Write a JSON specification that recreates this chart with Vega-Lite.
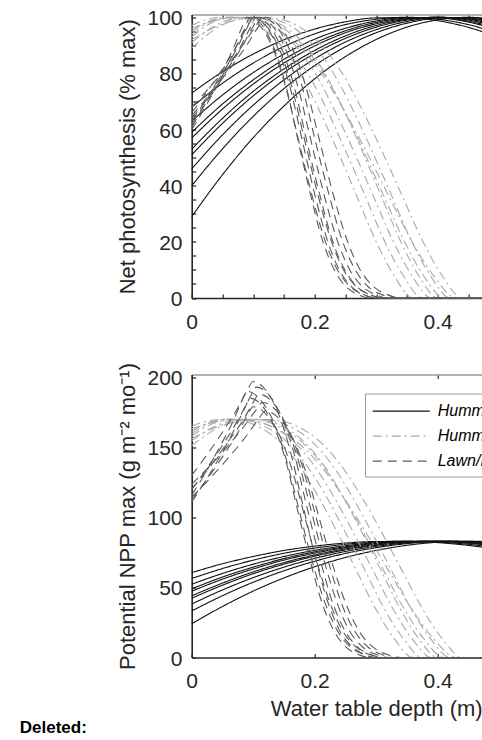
{
"$schema":"https://vega.github.io/schema/vega-lite/v6.json",
"autosize":{"type":"none"},
"padding":{"left":191.7,"top":14.5,"right":290.3,"bottom":725.5},
"background":"white",
"bounds":"flush",
"spacing":76,
"title":{"text":"Deleted:","orient":"bottom","anchor":"start","font":"Liberation Sans","fontSize":17,"fontWeight":"bold","color":"#000000","offset":0,"dx":-96.7},
"config":{
 "font":"Liberation Sans",
 "view":{"stroke":null},
 "axis":{"grid":false,"labelFlush":false,"labelOverlap":false,"domainColor":"#262626","domainWidth":1.6,"tickColor":"#262626","tickWidth":1.2,"tickSize":-4,"labelFont":"Liberation Sans","labelFontSize":21,"labelColor":"#262626","titleFont":"Liberation Sans","titleFontSize":22,"titleFontWeight":"normal","titleColor":"#262626"},
 "legend":{"labelFont":"Liberation Sans"}
},
"datasets":{
"photo":[
{"c":"S1","t":"Hummock","x":0,"y":73},{"c":"S1","t":"Hummock","x":0.05,"y":80.6},{"c":"S1","t":"Hummock","x":0.1,"y":86.9},{"c":"S1","t":"Hummock","x":0.15,"y":92},{"c":"S1","t":"Hummock","x":0.2,"y":95.8},{"c":"S1","t":"Hummock","x":0.25,"y":98.4},{"c":"S1","t":"Hummock","x":0.3,"y":99.8},{"c":"S1","t":"Hummock","x":0.35,"y":99.9},{"c":"S1","t":"Hummock","x":0.4,"y":98.8},{"c":"S1","t":"Hummock","x":0.45,"y":96.4},{"c":"S1","t":"Hummock","x":0.5,"y":92.8},
{"c":"S2","t":"Hummock","x":0,"y":68},{"c":"S2","t":"Hummock","x":0.05,"y":76.5},{"c":"S2","t":"Hummock","x":0.1,"y":83.7},{"c":"S2","t":"Hummock","x":0.15,"y":89.6},{"c":"S2","t":"Hummock","x":0.2,"y":94.1},{"c":"S2","t":"Hummock","x":0.25,"y":97.4},{"c":"S2","t":"Hummock","x":0.3,"y":99.3},{"c":"S2","t":"Hummock","x":0.35,"y":100},{"c":"S2","t":"Hummock","x":0.4,"y":99.3},{"c":"S2","t":"Hummock","x":0.45,"y":97.4},{"c":"S2","t":"Hummock","x":0.5,"y":94.1},
{"c":"S3","t":"Hummock","x":0,"y":63},{"c":"S3","t":"Hummock","x":0.05,"y":72.3},{"c":"S3","t":"Hummock","x":0.1,"y":80.3},{"c":"S3","t":"Hummock","x":0.15,"y":86.9},{"c":"S3","t":"Hummock","x":0.2,"y":92.2},{"c":"S3","t":"Hummock","x":0.25,"y":96.1},{"c":"S3","t":"Hummock","x":0.3,"y":98.7},{"c":"S3","t":"Hummock","x":0.35,"y":99.9},{"c":"S3","t":"Hummock","x":0.4,"y":99.8},{"c":"S3","t":"Hummock","x":0.45,"y":98.3},{"c":"S3","t":"Hummock","x":0.5,"y":95.4},
{"c":"S4","t":"Hummock","x":0,"y":59},{"c":"S4","t":"Hummock","x":0.05,"y":69.1},{"c":"S4","t":"Hummock","x":0.1,"y":77.7},{"c":"S4","t":"Hummock","x":0.15,"y":85},{"c":"S4","t":"Hummock","x":0.2,"y":90.8},{"c":"S4","t":"Hummock","x":0.25,"y":95.2},{"c":"S4","t":"Hummock","x":0.3,"y":98.2},{"c":"S4","t":"Hummock","x":0.35,"y":99.7},{"c":"S4","t":"Hummock","x":0.4,"y":99.9},{"c":"S4","t":"Hummock","x":0.45,"y":98.6},{"c":"S4","t":"Hummock","x":0.5,"y":95.9},
{"c":"S5","t":"Hummock","x":0,"y":57},{"c":"S5","t":"Hummock","x":0.05,"y":67.3},{"c":"S5","t":"Hummock","x":0.1,"y":76.2},{"c":"S5","t":"Hummock","x":0.15,"y":83.7},{"c":"S5","t":"Hummock","x":0.2,"y":89.8},{"c":"S5","t":"Hummock","x":0.25,"y":94.5},{"c":"S5","t":"Hummock","x":0.3,"y":97.7},{"c":"S5","t":"Hummock","x":0.35,"y":99.5},{"c":"S5","t":"Hummock","x":0.4,"y":100},{"c":"S5","t":"Hummock","x":0.45,"y":99},{"c":"S5","t":"Hummock","x":0.5,"y":96.6},
{"c":"S6","t":"Hummock","x":0,"y":53},{"c":"S6","t":"Hummock","x":0.05,"y":64},{"c":"S6","t":"Hummock","x":0.1,"y":73.6},{"c":"S6","t":"Hummock","x":0.15,"y":81.6},{"c":"S6","t":"Hummock","x":0.2,"y":88.2},{"c":"S6","t":"Hummock","x":0.25,"y":93.4},{"c":"S6","t":"Hummock","x":0.3,"y":97.1},{"c":"S6","t":"Hummock","x":0.35,"y":99.3},{"c":"S6","t":"Hummock","x":0.4,"y":100},{"c":"S6","t":"Hummock","x":0.45,"y":99.3},{"c":"S6","t":"Hummock","x":0.5,"y":97.1},
{"c":"S7","t":"Hummock","x":0,"y":51},{"c":"S7","t":"Hummock","x":0.05,"y":62.2},{"c":"S7","t":"Hummock","x":0.1,"y":72},{"c":"S7","t":"Hummock","x":0.15,"y":80.3},{"c":"S7","t":"Hummock","x":0.2,"y":87.1},{"c":"S7","t":"Hummock","x":0.25,"y":92.5},{"c":"S7","t":"Hummock","x":0.3,"y":96.5},{"c":"S7","t":"Hummock","x":0.35,"y":99},{"c":"S7","t":"Hummock","x":0.4,"y":100},{"c":"S7","t":"Hummock","x":0.45,"y":99.5},{"c":"S7","t":"Hummock","x":0.5,"y":97.6},
{"c":"S8","t":"Hummock","x":0,"y":46},{"c":"S8","t":"Hummock","x":0.05,"y":58.1},{"c":"S8","t":"Hummock","x":0.1,"y":68.7},{"c":"S8","t":"Hummock","x":0.15,"y":77.7},{"c":"S8","t":"Hummock","x":0.2,"y":85.2},{"c":"S8","t":"Hummock","x":0.25,"y":91.2},{"c":"S8","t":"Hummock","x":0.3,"y":95.6},{"c":"S8","t":"Hummock","x":0.35,"y":98.5},{"c":"S8","t":"Hummock","x":0.4,"y":99.9},{"c":"S8","t":"Hummock","x":0.45,"y":99.7},{"c":"S8","t":"Hummock","x":0.5,"y":98},
{"c":"S9","t":"Hummock","x":0,"y":40},{"c":"S9","t":"Hummock","x":0.05,"y":53.1},{"c":"S9","t":"Hummock","x":0.1,"y":64.7},{"c":"S9","t":"Hummock","x":0.15,"y":74.6},{"c":"S9","t":"Hummock","x":0.2,"y":82.8},{"c":"S9","t":"Hummock","x":0.25,"y":89.5},{"c":"S9","t":"Hummock","x":0.3,"y":94.5},{"c":"S9","t":"Hummock","x":0.35,"y":97.9},{"c":"S9","t":"Hummock","x":0.4,"y":99.7},{"c":"S9","t":"Hummock","x":0.45,"y":99.9},{"c":"S9","t":"Hummock","x":0.5,"y":98.4},
{"c":"S10","t":"Hummock","x":0,"y":29},{"c":"S10","t":"Hummock","x":0.05,"y":43.9},{"c":"S10","t":"Hummock","x":0.1,"y":57.1},{"c":"S10","t":"Hummock","x":0.15,"y":68.4},{"c":"S10","t":"Hummock","x":0.2,"y":78.1},{"c":"S10","t":"Hummock","x":0.25,"y":86},{"c":"S10","t":"Hummock","x":0.3,"y":92.1},{"c":"S10","t":"Hummock","x":0.35,"y":96.5},{"c":"S10","t":"Hummock","x":0.4,"y":99.1},{"c":"S10","t":"Hummock","x":0.45,"y":100},{"c":"S10","t":"Hummock","x":0.5,"y":99.1},
{"c":"D1","t":"Hummock/Lawn","x":0,"y":97},{"c":"D1","t":"Hummock/Lawn","x":0.025,"y":99.3},{"c":"D1","t":"Hummock/Lawn","x":0.05,"y":100},{"c":"D1","t":"Hummock/Lawn","x":0.081,"y":99.4},{"c":"D1","t":"Hummock/Lawn","x":0.112,"y":96.5},{"c":"D1","t":"Hummock/Lawn","x":0.143,"y":90.5},{"c":"D1","t":"Hummock/Lawn","x":0.174,"y":81},{"c":"D1","t":"Hummock/Lawn","x":0.205,"y":68},{"c":"D1","t":"Hummock/Lawn","x":0.236,"y":53},{"c":"D1","t":"Hummock/Lawn","x":0.267,"y":37},{"c":"D1","t":"Hummock/Lawn","x":0.298,"y":21},{"c":"D1","t":"Hummock/Lawn","x":0.329,"y":8},{"c":"D1","t":"Hummock/Lawn","x":0.36,"y":0},{"c":"D1","t":"Hummock/Lawn","x":0.5,"y":0},
{"c":"D2","t":"Hummock/Lawn","x":0,"y":95},{"c":"D2","t":"Hummock/Lawn","x":0.03,"y":98.8},{"c":"D2","t":"Hummock/Lawn","x":0.06,"y":100},{"c":"D2","t":"Hummock/Lawn","x":0.092,"y":99.4},{"c":"D2","t":"Hummock/Lawn","x":0.123,"y":96.5},{"c":"D2","t":"Hummock/Lawn","x":0.155,"y":90.5},{"c":"D2","t":"Hummock/Lawn","x":0.186,"y":81},{"c":"D2","t":"Hummock/Lawn","x":0.218,"y":68},{"c":"D2","t":"Hummock/Lawn","x":0.249,"y":53},{"c":"D2","t":"Hummock/Lawn","x":0.281,"y":37},{"c":"D2","t":"Hummock/Lawn","x":0.312,"y":21},{"c":"D2","t":"Hummock/Lawn","x":0.344,"y":8},{"c":"D2","t":"Hummock/Lawn","x":0.375,"y":0},{"c":"D2","t":"Hummock/Lawn","x":0.5,"y":0},
{"c":"D3","t":"Hummock/Lawn","x":0,"y":93},{"c":"D3","t":"Hummock/Lawn","x":0.035,"y":98.3},{"c":"D3","t":"Hummock/Lawn","x":0.07,"y":100},{"c":"D3","t":"Hummock/Lawn","x":0.102,"y":99.4},{"c":"D3","t":"Hummock/Lawn","x":0.134,"y":96.5},{"c":"D3","t":"Hummock/Lawn","x":0.166,"y":90.5},{"c":"D3","t":"Hummock/Lawn","x":0.198,"y":81},{"c":"D3","t":"Hummock/Lawn","x":0.23,"y":68},{"c":"D3","t":"Hummock/Lawn","x":0.262,"y":53},{"c":"D3","t":"Hummock/Lawn","x":0.294,"y":37},{"c":"D3","t":"Hummock/Lawn","x":0.326,"y":21},{"c":"D3","t":"Hummock/Lawn","x":0.358,"y":8},{"c":"D3","t":"Hummock/Lawn","x":0.39,"y":0},{"c":"D3","t":"Hummock/Lawn","x":0.5,"y":0},
{"c":"D4","t":"Hummock/Lawn","x":0,"y":91},{"c":"D4","t":"Hummock/Lawn","x":0.045,"y":97.8},{"c":"D4","t":"Hummock/Lawn","x":0.09,"y":100},{"c":"D4","t":"Hummock/Lawn","x":0.121,"y":99.4},{"c":"D4","t":"Hummock/Lawn","x":0.152,"y":96.5},{"c":"D4","t":"Hummock/Lawn","x":0.183,"y":90.5},{"c":"D4","t":"Hummock/Lawn","x":0.214,"y":81},{"c":"D4","t":"Hummock/Lawn","x":0.245,"y":68},{"c":"D4","t":"Hummock/Lawn","x":0.276,"y":53},{"c":"D4","t":"Hummock/Lawn","x":0.307,"y":37},{"c":"D4","t":"Hummock/Lawn","x":0.338,"y":21},{"c":"D4","t":"Hummock/Lawn","x":0.369,"y":8},{"c":"D4","t":"Hummock/Lawn","x":0.4,"y":0},{"c":"D4","t":"Hummock/Lawn","x":0.5,"y":0},
{"c":"D5","t":"Hummock/Lawn","x":0,"y":96},{"c":"D5","t":"Hummock/Lawn","x":0.04,"y":99},{"c":"D5","t":"Hummock/Lawn","x":0.08,"y":100},{"c":"D5","t":"Hummock/Lawn","x":0.113,"y":99.4},{"c":"D5","t":"Hummock/Lawn","x":0.146,"y":96.5},{"c":"D5","t":"Hummock/Lawn","x":0.179,"y":90.5},{"c":"D5","t":"Hummock/Lawn","x":0.212,"y":81},{"c":"D5","t":"Hummock/Lawn","x":0.245,"y":68},{"c":"D5","t":"Hummock/Lawn","x":0.278,"y":53},{"c":"D5","t":"Hummock/Lawn","x":0.311,"y":37},{"c":"D5","t":"Hummock/Lawn","x":0.344,"y":21},{"c":"D5","t":"Hummock/Lawn","x":0.377,"y":8},{"c":"D5","t":"Hummock/Lawn","x":0.41,"y":0},{"c":"D5","t":"Hummock/Lawn","x":0.5,"y":0},
{"c":"D6","t":"Hummock/Lawn","x":0,"y":89},{"c":"D6","t":"Hummock/Lawn","x":0.05,"y":97.3},{"c":"D6","t":"Hummock/Lawn","x":0.1,"y":100},{"c":"D6","t":"Hummock/Lawn","x":0.132,"y":99.4},{"c":"D6","t":"Hummock/Lawn","x":0.164,"y":96.5},{"c":"D6","t":"Hummock/Lawn","x":0.196,"y":90.5},{"c":"D6","t":"Hummock/Lawn","x":0.228,"y":81},{"c":"D6","t":"Hummock/Lawn","x":0.26,"y":68},{"c":"D6","t":"Hummock/Lawn","x":0.292,"y":53},{"c":"D6","t":"Hummock/Lawn","x":0.324,"y":37},{"c":"D6","t":"Hummock/Lawn","x":0.356,"y":21},{"c":"D6","t":"Hummock/Lawn","x":0.388,"y":8},{"c":"D6","t":"Hummock/Lawn","x":0.42,"y":0},{"c":"D6","t":"Hummock/Lawn","x":0.5,"y":0},
{"c":"D7","t":"Hummock/Lawn","x":0,"y":94},{"c":"D7","t":"Hummock/Lawn","x":0.03,"y":98.5},{"c":"D7","t":"Hummock/Lawn","x":0.06,"y":100},{"c":"D7","t":"Hummock/Lawn","x":0.097,"y":99.4},{"c":"D7","t":"Hummock/Lawn","x":0.134,"y":96.5},{"c":"D7","t":"Hummock/Lawn","x":0.171,"y":90.5},{"c":"D7","t":"Hummock/Lawn","x":0.208,"y":81},{"c":"D7","t":"Hummock/Lawn","x":0.245,"y":68},{"c":"D7","t":"Hummock/Lawn","x":0.282,"y":53},{"c":"D7","t":"Hummock/Lawn","x":0.319,"y":37},{"c":"D7","t":"Hummock/Lawn","x":0.356,"y":21},{"c":"D7","t":"Hummock/Lawn","x":0.393,"y":8},{"c":"D7","t":"Hummock/Lawn","x":0.43,"y":0},{"c":"D7","t":"Hummock/Lawn","x":0.5,"y":0},
{"c":"D8","t":"Hummock/Lawn","x":0,"y":92},{"c":"D8","t":"Hummock/Lawn","x":0.055,"y":98},{"c":"D8","t":"Hummock/Lawn","x":0.11,"y":100},{"c":"D8","t":"Hummock/Lawn","x":0.143,"y":99.4},{"c":"D8","t":"Hummock/Lawn","x":0.176,"y":96.5},{"c":"D8","t":"Hummock/Lawn","x":0.209,"y":90.5},{"c":"D8","t":"Hummock/Lawn","x":0.242,"y":81},{"c":"D8","t":"Hummock/Lawn","x":0.275,"y":68},{"c":"D8","t":"Hummock/Lawn","x":0.308,"y":53},{"c":"D8","t":"Hummock/Lawn","x":0.341,"y":37},{"c":"D8","t":"Hummock/Lawn","x":0.374,"y":21},{"c":"D8","t":"Hummock/Lawn","x":0.407,"y":8},{"c":"D8","t":"Hummock/Lawn","x":0.44,"y":0},{"c":"D8","t":"Hummock/Lawn","x":0.5,"y":0},
{"c":"L1","t":"Lawn/Hollow","x":0,"y":66},{"c":"L1","t":"Lawn/Hollow","x":0.025,"y":73.5},{"c":"L1","t":"Lawn/Hollow","x":0.05,"y":81.6},{"c":"L1","t":"Lawn/Hollow","x":0.075,"y":90.5},{"c":"L1","t":"Lawn/Hollow","x":0.09,"y":96.6},{"c":"L1","t":"Lawn/Hollow","x":0.1,"y":100},{"c":"L1","t":"Lawn/Hollow","x":0.12,"y":97},{"c":"L1","t":"Lawn/Hollow","x":0.14,"y":89},{"c":"L1","t":"Lawn/Hollow","x":0.16,"y":75},{"c":"L1","t":"Lawn/Hollow","x":0.18,"y":56},{"c":"L1","t":"Lawn/Hollow","x":0.2,"y":37},{"c":"L1","t":"Lawn/Hollow","x":0.22,"y":21},{"c":"L1","t":"Lawn/Hollow","x":0.24,"y":10},{"c":"L1","t":"Lawn/Hollow","x":0.26,"y":4},{"c":"L1","t":"Lawn/Hollow","x":0.28,"y":1.2},{"c":"L1","t":"Lawn/Hollow","x":0.3,"y":0},{"c":"L1","t":"Lawn/Hollow","x":0.5,"y":0},
{"c":"L2","t":"Lawn/Hollow","x":0,"y":62},{"c":"L2","t":"Lawn/Hollow","x":0.026,"y":70.4},{"c":"L2","t":"Lawn/Hollow","x":0.053,"y":79.5},{"c":"L2","t":"Lawn/Hollow","x":0.079,"y":89.4},{"c":"L2","t":"Lawn/Hollow","x":0.095,"y":96.2},{"c":"L2","t":"Lawn/Hollow","x":0.105,"y":100},{"c":"L2","t":"Lawn/Hollow","x":0.126,"y":97},{"c":"L2","t":"Lawn/Hollow","x":0.146,"y":89},{"c":"L2","t":"Lawn/Hollow","x":0.167,"y":75},{"c":"L2","t":"Lawn/Hollow","x":0.187,"y":56},{"c":"L2","t":"Lawn/Hollow","x":0.208,"y":37},{"c":"L2","t":"Lawn/Hollow","x":0.228,"y":21},{"c":"L2","t":"Lawn/Hollow","x":0.249,"y":10},{"c":"L2","t":"Lawn/Hollow","x":0.269,"y":4},{"c":"L2","t":"Lawn/Hollow","x":0.29,"y":1.2},{"c":"L2","t":"Lawn/Hollow","x":0.31,"y":0},{"c":"L2","t":"Lawn/Hollow","x":0.5,"y":0},
{"c":"L3","t":"Lawn/Hollow","x":0,"y":64},{"c":"L3","t":"Lawn/Hollow","x":0.028,"y":71.9},{"c":"L3","t":"Lawn/Hollow","x":0.055,"y":80.6},{"c":"L3","t":"Lawn/Hollow","x":0.083,"y":89.9},{"c":"L3","t":"Lawn/Hollow","x":0.099,"y":96.4},{"c":"L3","t":"Lawn/Hollow","x":0.11,"y":100},{"c":"L3","t":"Lawn/Hollow","x":0.131,"y":97},{"c":"L3","t":"Lawn/Hollow","x":0.152,"y":89},{"c":"L3","t":"Lawn/Hollow","x":0.173,"y":75},{"c":"L3","t":"Lawn/Hollow","x":0.194,"y":56},{"c":"L3","t":"Lawn/Hollow","x":0.215,"y":37},{"c":"L3","t":"Lawn/Hollow","x":0.236,"y":21},{"c":"L3","t":"Lawn/Hollow","x":0.257,"y":10},{"c":"L3","t":"Lawn/Hollow","x":0.278,"y":4},{"c":"L3","t":"Lawn/Hollow","x":0.299,"y":1.2},{"c":"L3","t":"Lawn/Hollow","x":0.32,"y":0},{"c":"L3","t":"Lawn/Hollow","x":0.5,"y":0},
{"c":"L4","t":"Lawn/Hollow","x":0,"y":60},{"c":"L4","t":"Lawn/Hollow","x":0.024,"y":68.8},{"c":"L4","t":"Lawn/Hollow","x":0.048,"y":78.4},{"c":"L4","t":"Lawn/Hollow","x":0.071,"y":88.8},{"c":"L4","t":"Lawn/Hollow","x":0.086,"y":96},{"c":"L4","t":"Lawn/Hollow","x":0.095,"y":100},{"c":"L4","t":"Lawn/Hollow","x":0.115,"y":97},{"c":"L4","t":"Lawn/Hollow","x":0.134,"y":89},{"c":"L4","t":"Lawn/Hollow","x":0.154,"y":75},{"c":"L4","t":"Lawn/Hollow","x":0.173,"y":56},{"c":"L4","t":"Lawn/Hollow","x":0.193,"y":37},{"c":"L4","t":"Lawn/Hollow","x":0.212,"y":21},{"c":"L4","t":"Lawn/Hollow","x":0.232,"y":10},{"c":"L4","t":"Lawn/Hollow","x":0.251,"y":4},{"c":"L4","t":"Lawn/Hollow","x":0.271,"y":1.2},{"c":"L4","t":"Lawn/Hollow","x":0.29,"y":0},{"c":"L4","t":"Lawn/Hollow","x":0.5,"y":0},
{"c":"L5","t":"Lawn/Hollow","x":0,"y":68},{"c":"L5","t":"Lawn/Hollow","x":0.029,"y":75},{"c":"L5","t":"Lawn/Hollow","x":0.058,"y":82.7},{"c":"L5","t":"Lawn/Hollow","x":0.086,"y":91},{"c":"L5","t":"Lawn/Hollow","x":0.104,"y":96.8},{"c":"L5","t":"Lawn/Hollow","x":0.115,"y":100},{"c":"L5","t":"Lawn/Hollow","x":0.137,"y":97},{"c":"L5","t":"Lawn/Hollow","x":0.158,"y":89},{"c":"L5","t":"Lawn/Hollow","x":0.18,"y":75},{"c":"L5","t":"Lawn/Hollow","x":0.201,"y":56},{"c":"L5","t":"Lawn/Hollow","x":0.223,"y":37},{"c":"L5","t":"Lawn/Hollow","x":0.244,"y":21},{"c":"L5","t":"Lawn/Hollow","x":0.266,"y":10},{"c":"L5","t":"Lawn/Hollow","x":0.287,"y":4},{"c":"L5","t":"Lawn/Hollow","x":0.309,"y":1.2},{"c":"L5","t":"Lawn/Hollow","x":0.33,"y":0},{"c":"L5","t":"Lawn/Hollow","x":0.5,"y":0},
{"c":"L6","t":"Lawn/Hollow","x":0,"y":63},{"c":"L6","t":"Lawn/Hollow","x":0.025,"y":71.1},{"c":"L6","t":"Lawn/Hollow","x":0.05,"y":80},{"c":"L6","t":"Lawn/Hollow","x":0.075,"y":89.6},{"c":"L6","t":"Lawn/Hollow","x":0.09,"y":96.3},{"c":"L6","t":"Lawn/Hollow","x":0.1,"y":100},{"c":"L6","t":"Lawn/Hollow","x":0.121,"y":97},{"c":"L6","t":"Lawn/Hollow","x":0.142,"y":89},{"c":"L6","t":"Lawn/Hollow","x":0.163,"y":75},{"c":"L6","t":"Lawn/Hollow","x":0.184,"y":56},{"c":"L6","t":"Lawn/Hollow","x":0.205,"y":37},{"c":"L6","t":"Lawn/Hollow","x":0.226,"y":21},{"c":"L6","t":"Lawn/Hollow","x":0.247,"y":10},{"c":"L6","t":"Lawn/Hollow","x":0.268,"y":4},{"c":"L6","t":"Lawn/Hollow","x":0.289,"y":1.2},{"c":"L6","t":"Lawn/Hollow","x":0.31,"y":0},{"c":"L6","t":"Lawn/Hollow","x":0.5,"y":0},
{"c":"L7","t":"Lawn/Hollow","x":0,"y":65},{"c":"L7","t":"Lawn/Hollow","x":0.03,"y":72.7},{"c":"L7","t":"Lawn/Hollow","x":0.06,"y":81.1},{"c":"L7","t":"Lawn/Hollow","x":0.09,"y":90.2},{"c":"L7","t":"Lawn/Hollow","x":0.108,"y":96.5},{"c":"L7","t":"Lawn/Hollow","x":0.12,"y":100},{"c":"L7","t":"Lawn/Hollow","x":0.142,"y":97},{"c":"L7","t":"Lawn/Hollow","x":0.164,"y":89},{"c":"L7","t":"Lawn/Hollow","x":0.186,"y":75},{"c":"L7","t":"Lawn/Hollow","x":0.208,"y":56},{"c":"L7","t":"Lawn/Hollow","x":0.23,"y":37},{"c":"L7","t":"Lawn/Hollow","x":0.252,"y":21},{"c":"L7","t":"Lawn/Hollow","x":0.274,"y":10},{"c":"L7","t":"Lawn/Hollow","x":0.296,"y":4},{"c":"L7","t":"Lawn/Hollow","x":0.318,"y":1.2},{"c":"L7","t":"Lawn/Hollow","x":0.34,"y":0},{"c":"L7","t":"Lawn/Hollow","x":0.5,"y":0},
{"c":"L8","t":"Lawn/Hollow","x":0,"y":61},{"c":"L8","t":"Lawn/Hollow","x":0.023,"y":69.6},{"c":"L8","t":"Lawn/Hollow","x":0.045,"y":78.9},{"c":"L8","t":"Lawn/Hollow","x":0.068,"y":89.1},{"c":"L8","t":"Lawn/Hollow","x":0.081,"y":96.1},{"c":"L8","t":"Lawn/Hollow","x":0.09,"y":100},{"c":"L8","t":"Lawn/Hollow","x":0.111,"y":97},{"c":"L8","t":"Lawn/Hollow","x":0.132,"y":89},{"c":"L8","t":"Lawn/Hollow","x":0.153,"y":75},{"c":"L8","t":"Lawn/Hollow","x":0.174,"y":56},{"c":"L8","t":"Lawn/Hollow","x":0.195,"y":37},{"c":"L8","t":"Lawn/Hollow","x":0.216,"y":21},{"c":"L8","t":"Lawn/Hollow","x":0.237,"y":10},{"c":"L8","t":"Lawn/Hollow","x":0.258,"y":4},{"c":"L8","t":"Lawn/Hollow","x":0.279,"y":1.2},{"c":"L8","t":"Lawn/Hollow","x":0.3,"y":0},{"c":"L8","t":"Lawn/Hollow","x":0.5,"y":0}
],
"npp":[
{"c":"S1","t":"Hummock","x":0,"y":60.6},{"c":"S1","t":"Hummock","x":0.05,"y":66.9},{"c":"S1","t":"Hummock","x":0.1,"y":72.1},{"c":"S1","t":"Hummock","x":0.15,"y":76.4},{"c":"S1","t":"Hummock","x":0.2,"y":79.5},{"c":"S1","t":"Hummock","x":0.25,"y":81.7},{"c":"S1","t":"Hummock","x":0.3,"y":82.8},{"c":"S1","t":"Hummock","x":0.35,"y":82.9},{"c":"S1","t":"Hummock","x":0.4,"y":82},{"c":"S1","t":"Hummock","x":0.45,"y":80},{"c":"S1","t":"Hummock","x":0.5,"y":77},
{"c":"S2","t":"Hummock","x":0,"y":56.4},{"c":"S2","t":"Hummock","x":0.05,"y":63.5},{"c":"S2","t":"Hummock","x":0.1,"y":69.5},{"c":"S2","t":"Hummock","x":0.15,"y":74.4},{"c":"S2","t":"Hummock","x":0.2,"y":78.1},{"c":"S2","t":"Hummock","x":0.25,"y":80.8},{"c":"S2","t":"Hummock","x":0.3,"y":82.4},{"c":"S2","t":"Hummock","x":0.35,"y":83},{"c":"S2","t":"Hummock","x":0.4,"y":82.4},{"c":"S2","t":"Hummock","x":0.45,"y":80.8},{"c":"S2","t":"Hummock","x":0.5,"y":78.1},
{"c":"S3","t":"Hummock","x":0,"y":52.3},{"c":"S3","t":"Hummock","x":0.05,"y":60},{"c":"S3","t":"Hummock","x":0.1,"y":66.6},{"c":"S3","t":"Hummock","x":0.15,"y":72.1},{"c":"S3","t":"Hummock","x":0.2,"y":76.5},{"c":"S3","t":"Hummock","x":0.25,"y":79.8},{"c":"S3","t":"Hummock","x":0.3,"y":81.9},{"c":"S3","t":"Hummock","x":0.35,"y":82.9},{"c":"S3","t":"Hummock","x":0.4,"y":82.8},{"c":"S3","t":"Hummock","x":0.45,"y":81.6},{"c":"S3","t":"Hummock","x":0.5,"y":79.2},
{"c":"S4","t":"Hummock","x":0,"y":49},{"c":"S4","t":"Hummock","x":0.05,"y":57.4},{"c":"S4","t":"Hummock","x":0.1,"y":64.5},{"c":"S4","t":"Hummock","x":0.15,"y":70.6},{"c":"S4","t":"Hummock","x":0.2,"y":75.4},{"c":"S4","t":"Hummock","x":0.25,"y":79},{"c":"S4","t":"Hummock","x":0.3,"y":81.5},{"c":"S4","t":"Hummock","x":0.35,"y":82.8},{"c":"S4","t":"Hummock","x":0.4,"y":82.9},{"c":"S4","t":"Hummock","x":0.45,"y":81.8},{"c":"S4","t":"Hummock","x":0.5,"y":79.6},
{"c":"S5","t":"Hummock","x":0,"y":47.3},{"c":"S5","t":"Hummock","x":0.05,"y":55.9},{"c":"S5","t":"Hummock","x":0.1,"y":63.2},{"c":"S5","t":"Hummock","x":0.15,"y":69.5},{"c":"S5","t":"Hummock","x":0.2,"y":74.5},{"c":"S5","t":"Hummock","x":0.25,"y":78.4},{"c":"S5","t":"Hummock","x":0.3,"y":81.1},{"c":"S5","t":"Hummock","x":0.35,"y":82.6},{"c":"S5","t":"Hummock","x":0.4,"y":83},{"c":"S5","t":"Hummock","x":0.45,"y":82.2},{"c":"S5","t":"Hummock","x":0.5,"y":80.2},
{"c":"S6","t":"Hummock","x":0,"y":44},{"c":"S6","t":"Hummock","x":0.05,"y":53.1},{"c":"S6","t":"Hummock","x":0.1,"y":61.1},{"c":"S6","t":"Hummock","x":0.15,"y":67.7},{"c":"S6","t":"Hummock","x":0.2,"y":73.2},{"c":"S6","t":"Hummock","x":0.25,"y":77.5},{"c":"S6","t":"Hummock","x":0.3,"y":80.6},{"c":"S6","t":"Hummock","x":0.35,"y":82.4},{"c":"S6","t":"Hummock","x":0.4,"y":83},{"c":"S6","t":"Hummock","x":0.45,"y":82.4},{"c":"S6","t":"Hummock","x":0.5,"y":80.6},
{"c":"S7","t":"Hummock","x":0,"y":42.3},{"c":"S7","t":"Hummock","x":0.05,"y":51.6},{"c":"S7","t":"Hummock","x":0.1,"y":59.8},{"c":"S7","t":"Hummock","x":0.15,"y":66.6},{"c":"S7","t":"Hummock","x":0.2,"y":72.3},{"c":"S7","t":"Hummock","x":0.25,"y":76.8},{"c":"S7","t":"Hummock","x":0.3,"y":80.1},{"c":"S7","t":"Hummock","x":0.35,"y":82.2},{"c":"S7","t":"Hummock","x":0.4,"y":83},{"c":"S7","t":"Hummock","x":0.45,"y":82.6},{"c":"S7","t":"Hummock","x":0.5,"y":81},
{"c":"S8","t":"Hummock","x":0,"y":38.2},{"c":"S8","t":"Hummock","x":0.05,"y":48.2},{"c":"S8","t":"Hummock","x":0.1,"y":57},{"c":"S8","t":"Hummock","x":0.15,"y":64.5},{"c":"S8","t":"Hummock","x":0.2,"y":70.7},{"c":"S8","t":"Hummock","x":0.25,"y":75.7},{"c":"S8","t":"Hummock","x":0.3,"y":79.3},{"c":"S8","t":"Hummock","x":0.35,"y":81.8},{"c":"S8","t":"Hummock","x":0.4,"y":82.9},{"c":"S8","t":"Hummock","x":0.45,"y":82.8},{"c":"S8","t":"Hummock","x":0.5,"y":81.3},
{"c":"S9","t":"Hummock","x":0,"y":33.2},{"c":"S9","t":"Hummock","x":0.05,"y":44.1},{"c":"S9","t":"Hummock","x":0.1,"y":53.7},{"c":"S9","t":"Hummock","x":0.15,"y":61.9},{"c":"S9","t":"Hummock","x":0.2,"y":68.7},{"c":"S9","t":"Hummock","x":0.25,"y":74.3},{"c":"S9","t":"Hummock","x":0.3,"y":78.4},{"c":"S9","t":"Hummock","x":0.35,"y":81.3},{"c":"S9","t":"Hummock","x":0.4,"y":82.8},{"c":"S9","t":"Hummock","x":0.45,"y":82.9},{"c":"S9","t":"Hummock","x":0.5,"y":81.7},
{"c":"S10","t":"Hummock","x":0,"y":24.1},{"c":"S10","t":"Hummock","x":0.05,"y":36.4},{"c":"S10","t":"Hummock","x":0.1,"y":47.4},{"c":"S10","t":"Hummock","x":0.15,"y":56.8},{"c":"S10","t":"Hummock","x":0.2,"y":64.8},{"c":"S10","t":"Hummock","x":0.25,"y":71.4},{"c":"S10","t":"Hummock","x":0.3,"y":76.4},{"c":"S10","t":"Hummock","x":0.35,"y":80.1},{"c":"S10","t":"Hummock","x":0.4,"y":82.3},{"c":"S10","t":"Hummock","x":0.45,"y":83},{"c":"S10","t":"Hummock","x":0.5,"y":82.3},
{"c":"D1","t":"Hummock/Lawn","x":0,"y":164.9},{"c":"D1","t":"Hummock/Lawn","x":0.025,"y":168.8},{"c":"D1","t":"Hummock/Lawn","x":0.05,"y":170},{"c":"D1","t":"Hummock/Lawn","x":0.081,"y":169},{"c":"D1","t":"Hummock/Lawn","x":0.112,"y":164},{"c":"D1","t":"Hummock/Lawn","x":0.143,"y":153.9},{"c":"D1","t":"Hummock/Lawn","x":0.174,"y":137.7},{"c":"D1","t":"Hummock/Lawn","x":0.205,"y":115.6},{"c":"D1","t":"Hummock/Lawn","x":0.236,"y":90.1},{"c":"D1","t":"Hummock/Lawn","x":0.267,"y":62.9},{"c":"D1","t":"Hummock/Lawn","x":0.298,"y":35.7},{"c":"D1","t":"Hummock/Lawn","x":0.329,"y":13.6},{"c":"D1","t":"Hummock/Lawn","x":0.36,"y":0},{"c":"D1","t":"Hummock/Lawn","x":0.5,"y":0},
{"c":"D2","t":"Hummock/Lawn","x":0,"y":161.5},{"c":"D2","t":"Hummock/Lawn","x":0.03,"y":168},{"c":"D2","t":"Hummock/Lawn","x":0.06,"y":170},{"c":"D2","t":"Hummock/Lawn","x":0.092,"y":169},{"c":"D2","t":"Hummock/Lawn","x":0.123,"y":164},{"c":"D2","t":"Hummock/Lawn","x":0.155,"y":153.9},{"c":"D2","t":"Hummock/Lawn","x":0.186,"y":137.7},{"c":"D2","t":"Hummock/Lawn","x":0.218,"y":115.6},{"c":"D2","t":"Hummock/Lawn","x":0.249,"y":90.1},{"c":"D2","t":"Hummock/Lawn","x":0.281,"y":62.9},{"c":"D2","t":"Hummock/Lawn","x":0.312,"y":35.7},{"c":"D2","t":"Hummock/Lawn","x":0.344,"y":13.6},{"c":"D2","t":"Hummock/Lawn","x":0.375,"y":0},{"c":"D2","t":"Hummock/Lawn","x":0.5,"y":0},
{"c":"D3","t":"Hummock/Lawn","x":0,"y":158.1},{"c":"D3","t":"Hummock/Lawn","x":0.035,"y":167.1},{"c":"D3","t":"Hummock/Lawn","x":0.07,"y":170},{"c":"D3","t":"Hummock/Lawn","x":0.102,"y":169},{"c":"D3","t":"Hummock/Lawn","x":0.134,"y":164},{"c":"D3","t":"Hummock/Lawn","x":0.166,"y":153.9},{"c":"D3","t":"Hummock/Lawn","x":0.198,"y":137.7},{"c":"D3","t":"Hummock/Lawn","x":0.23,"y":115.6},{"c":"D3","t":"Hummock/Lawn","x":0.262,"y":90.1},{"c":"D3","t":"Hummock/Lawn","x":0.294,"y":62.9},{"c":"D3","t":"Hummock/Lawn","x":0.326,"y":35.7},{"c":"D3","t":"Hummock/Lawn","x":0.358,"y":13.6},{"c":"D3","t":"Hummock/Lawn","x":0.39,"y":0},{"c":"D3","t":"Hummock/Lawn","x":0.5,"y":0},
{"c":"D4","t":"Hummock/Lawn","x":0,"y":154.7},{"c":"D4","t":"Hummock/Lawn","x":0.045,"y":166.3},{"c":"D4","t":"Hummock/Lawn","x":0.09,"y":170},{"c":"D4","t":"Hummock/Lawn","x":0.121,"y":169},{"c":"D4","t":"Hummock/Lawn","x":0.152,"y":164},{"c":"D4","t":"Hummock/Lawn","x":0.183,"y":153.9},{"c":"D4","t":"Hummock/Lawn","x":0.214,"y":137.7},{"c":"D4","t":"Hummock/Lawn","x":0.245,"y":115.6},{"c":"D4","t":"Hummock/Lawn","x":0.276,"y":90.1},{"c":"D4","t":"Hummock/Lawn","x":0.307,"y":62.9},{"c":"D4","t":"Hummock/Lawn","x":0.338,"y":35.7},{"c":"D4","t":"Hummock/Lawn","x":0.369,"y":13.6},{"c":"D4","t":"Hummock/Lawn","x":0.4,"y":0},{"c":"D4","t":"Hummock/Lawn","x":0.5,"y":0},
{"c":"D5","t":"Hummock/Lawn","x":0,"y":163.2},{"c":"D5","t":"Hummock/Lawn","x":0.04,"y":168.3},{"c":"D5","t":"Hummock/Lawn","x":0.08,"y":170},{"c":"D5","t":"Hummock/Lawn","x":0.113,"y":169},{"c":"D5","t":"Hummock/Lawn","x":0.146,"y":164},{"c":"D5","t":"Hummock/Lawn","x":0.179,"y":153.9},{"c":"D5","t":"Hummock/Lawn","x":0.212,"y":137.7},{"c":"D5","t":"Hummock/Lawn","x":0.245,"y":115.6},{"c":"D5","t":"Hummock/Lawn","x":0.278,"y":90.1},{"c":"D5","t":"Hummock/Lawn","x":0.311,"y":62.9},{"c":"D5","t":"Hummock/Lawn","x":0.344,"y":35.7},{"c":"D5","t":"Hummock/Lawn","x":0.377,"y":13.6},{"c":"D5","t":"Hummock/Lawn","x":0.41,"y":0},{"c":"D5","t":"Hummock/Lawn","x":0.5,"y":0},
{"c":"D6","t":"Hummock/Lawn","x":0,"y":151.3},{"c":"D6","t":"Hummock/Lawn","x":0.05,"y":165.4},{"c":"D6","t":"Hummock/Lawn","x":0.1,"y":170},{"c":"D6","t":"Hummock/Lawn","x":0.132,"y":169},{"c":"D6","t":"Hummock/Lawn","x":0.164,"y":164},{"c":"D6","t":"Hummock/Lawn","x":0.196,"y":153.9},{"c":"D6","t":"Hummock/Lawn","x":0.228,"y":137.7},{"c":"D6","t":"Hummock/Lawn","x":0.26,"y":115.6},{"c":"D6","t":"Hummock/Lawn","x":0.292,"y":90.1},{"c":"D6","t":"Hummock/Lawn","x":0.324,"y":62.9},{"c":"D6","t":"Hummock/Lawn","x":0.356,"y":35.7},{"c":"D6","t":"Hummock/Lawn","x":0.388,"y":13.6},{"c":"D6","t":"Hummock/Lawn","x":0.42,"y":0},{"c":"D6","t":"Hummock/Lawn","x":0.5,"y":0},
{"c":"D7","t":"Hummock/Lawn","x":0,"y":159.8},{"c":"D7","t":"Hummock/Lawn","x":0.03,"y":167.5},{"c":"D7","t":"Hummock/Lawn","x":0.06,"y":170},{"c":"D7","t":"Hummock/Lawn","x":0.097,"y":169},{"c":"D7","t":"Hummock/Lawn","x":0.134,"y":164},{"c":"D7","t":"Hummock/Lawn","x":0.171,"y":153.9},{"c":"D7","t":"Hummock/Lawn","x":0.208,"y":137.7},{"c":"D7","t":"Hummock/Lawn","x":0.245,"y":115.6},{"c":"D7","t":"Hummock/Lawn","x":0.282,"y":90.1},{"c":"D7","t":"Hummock/Lawn","x":0.319,"y":62.9},{"c":"D7","t":"Hummock/Lawn","x":0.356,"y":35.7},{"c":"D7","t":"Hummock/Lawn","x":0.393,"y":13.6},{"c":"D7","t":"Hummock/Lawn","x":0.43,"y":0},{"c":"D7","t":"Hummock/Lawn","x":0.5,"y":0},
{"c":"D8","t":"Hummock/Lawn","x":0,"y":156.4},{"c":"D8","t":"Hummock/Lawn","x":0.055,"y":166.6},{"c":"D8","t":"Hummock/Lawn","x":0.11,"y":170},{"c":"D8","t":"Hummock/Lawn","x":0.143,"y":169},{"c":"D8","t":"Hummock/Lawn","x":0.176,"y":164},{"c":"D8","t":"Hummock/Lawn","x":0.209,"y":153.9},{"c":"D8","t":"Hummock/Lawn","x":0.242,"y":137.7},{"c":"D8","t":"Hummock/Lawn","x":0.275,"y":115.6},{"c":"D8","t":"Hummock/Lawn","x":0.308,"y":90.1},{"c":"D8","t":"Hummock/Lawn","x":0.341,"y":62.9},{"c":"D8","t":"Hummock/Lawn","x":0.374,"y":35.7},{"c":"D8","t":"Hummock/Lawn","x":0.407,"y":13.6},{"c":"D8","t":"Hummock/Lawn","x":0.44,"y":0},{"c":"D8","t":"Hummock/Lawn","x":0.5,"y":0},
{"c":"L1","t":"Lawn/Hollow","x":0,"y":130},{"c":"L1","t":"Lawn/Hollow","x":0.025,"y":144.8},{"c":"L1","t":"Lawn/Hollow","x":0.05,"y":160.8},{"c":"L1","t":"Lawn/Hollow","x":0.075,"y":178.3},{"c":"L1","t":"Lawn/Hollow","x":0.09,"y":190.3},{"c":"L1","t":"Lawn/Hollow","x":0.1,"y":197},{"c":"L1","t":"Lawn/Hollow","x":0.12,"y":191.1},{"c":"L1","t":"Lawn/Hollow","x":0.14,"y":175.3},{"c":"L1","t":"Lawn/Hollow","x":0.16,"y":147.8},{"c":"L1","t":"Lawn/Hollow","x":0.18,"y":110.3},{"c":"L1","t":"Lawn/Hollow","x":0.2,"y":72.9},{"c":"L1","t":"Lawn/Hollow","x":0.22,"y":41.4},{"c":"L1","t":"Lawn/Hollow","x":0.24,"y":19.7},{"c":"L1","t":"Lawn/Hollow","x":0.26,"y":7.9},{"c":"L1","t":"Lawn/Hollow","x":0.28,"y":2.4},{"c":"L1","t":"Lawn/Hollow","x":0.3,"y":0},{"c":"L1","t":"Lawn/Hollow","x":0.5,"y":0},
{"c":"L2","t":"Lawn/Hollow","x":0,"y":119.7},{"c":"L2","t":"Lawn/Hollow","x":0.026,"y":135.9},{"c":"L2","t":"Lawn/Hollow","x":0.053,"y":153.4},{"c":"L2","t":"Lawn/Hollow","x":0.079,"y":172.5},{"c":"L2","t":"Lawn/Hollow","x":0.095,"y":185.7},{"c":"L2","t":"Lawn/Hollow","x":0.105,"y":193},{"c":"L2","t":"Lawn/Hollow","x":0.126,"y":187.2},{"c":"L2","t":"Lawn/Hollow","x":0.146,"y":171.8},{"c":"L2","t":"Lawn/Hollow","x":0.167,"y":144.8},{"c":"L2","t":"Lawn/Hollow","x":0.187,"y":108.1},{"c":"L2","t":"Lawn/Hollow","x":0.208,"y":71.4},{"c":"L2","t":"Lawn/Hollow","x":0.228,"y":40.5},{"c":"L2","t":"Lawn/Hollow","x":0.249,"y":19.3},{"c":"L2","t":"Lawn/Hollow","x":0.269,"y":7.7},{"c":"L2","t":"Lawn/Hollow","x":0.29,"y":2.3},{"c":"L2","t":"Lawn/Hollow","x":0.31,"y":0},{"c":"L2","t":"Lawn/Hollow","x":0.5,"y":0},
{"c":"L3","t":"Lawn/Hollow","x":0,"y":120.3},{"c":"L3","t":"Lawn/Hollow","x":0.028,"y":135.2},{"c":"L3","t":"Lawn/Hollow","x":0.055,"y":151.5},{"c":"L3","t":"Lawn/Hollow","x":0.083,"y":169},{"c":"L3","t":"Lawn/Hollow","x":0.099,"y":181.2},{"c":"L3","t":"Lawn/Hollow","x":0.11,"y":188},{"c":"L3","t":"Lawn/Hollow","x":0.131,"y":182.4},{"c":"L3","t":"Lawn/Hollow","x":0.152,"y":167.3},{"c":"L3","t":"Lawn/Hollow","x":0.173,"y":141},{"c":"L3","t":"Lawn/Hollow","x":0.194,"y":105.3},{"c":"L3","t":"Lawn/Hollow","x":0.215,"y":69.6},{"c":"L3","t":"Lawn/Hollow","x":0.236,"y":39.5},{"c":"L3","t":"Lawn/Hollow","x":0.257,"y":18.8},{"c":"L3","t":"Lawn/Hollow","x":0.278,"y":7.5},{"c":"L3","t":"Lawn/Hollow","x":0.299,"y":2.3},{"c":"L3","t":"Lawn/Hollow","x":0.32,"y":0},{"c":"L3","t":"Lawn/Hollow","x":0.5,"y":0},
{"c":"L4","t":"Lawn/Hollow","x":0,"y":111},{"c":"L4","t":"Lawn/Hollow","x":0.024,"y":127.3},{"c":"L4","t":"Lawn/Hollow","x":0.048,"y":145},{"c":"L4","t":"Lawn/Hollow","x":0.071,"y":164.3},{"c":"L4","t":"Lawn/Hollow","x":0.086,"y":177.6},{"c":"L4","t":"Lawn/Hollow","x":0.095,"y":185},{"c":"L4","t":"Lawn/Hollow","x":0.115,"y":179.5},{"c":"L4","t":"Lawn/Hollow","x":0.134,"y":164.7},{"c":"L4","t":"Lawn/Hollow","x":0.154,"y":138.8},{"c":"L4","t":"Lawn/Hollow","x":0.173,"y":103.6},{"c":"L4","t":"Lawn/Hollow","x":0.193,"y":68.5},{"c":"L4","t":"Lawn/Hollow","x":0.212,"y":38.9},{"c":"L4","t":"Lawn/Hollow","x":0.232,"y":18.5},{"c":"L4","t":"Lawn/Hollow","x":0.251,"y":7.4},{"c":"L4","t":"Lawn/Hollow","x":0.271,"y":2.2},{"c":"L4","t":"Lawn/Hollow","x":0.29,"y":0},{"c":"L4","t":"Lawn/Hollow","x":0.5,"y":0},
{"c":"L5","t":"Lawn/Hollow","x":0,"y":123.8},{"c":"L5","t":"Lawn/Hollow","x":0.029,"y":136.5},{"c":"L5","t":"Lawn/Hollow","x":0.058,"y":150.5},{"c":"L5","t":"Lawn/Hollow","x":0.086,"y":165.6},{"c":"L5","t":"Lawn/Hollow","x":0.104,"y":176.2},{"c":"L5","t":"Lawn/Hollow","x":0.115,"y":182},{"c":"L5","t":"Lawn/Hollow","x":0.137,"y":176.5},{"c":"L5","t":"Lawn/Hollow","x":0.158,"y":162},{"c":"L5","t":"Lawn/Hollow","x":0.18,"y":136.5},{"c":"L5","t":"Lawn/Hollow","x":0.201,"y":101.9},{"c":"L5","t":"Lawn/Hollow","x":0.223,"y":67.3},{"c":"L5","t":"Lawn/Hollow","x":0.244,"y":38.2},{"c":"L5","t":"Lawn/Hollow","x":0.266,"y":18.2},{"c":"L5","t":"Lawn/Hollow","x":0.287,"y":7.3},{"c":"L5","t":"Lawn/Hollow","x":0.309,"y":2.2},{"c":"L5","t":"Lawn/Hollow","x":0.33,"y":0},{"c":"L5","t":"Lawn/Hollow","x":0.5,"y":0},
{"c":"L6","t":"Lawn/Hollow","x":0,"y":112.8},{"c":"L6","t":"Lawn/Hollow","x":0.025,"y":127.3},{"c":"L6","t":"Lawn/Hollow","x":0.05,"y":143.2},{"c":"L6","t":"Lawn/Hollow","x":0.075,"y":160.4},{"c":"L6","t":"Lawn/Hollow","x":0.09,"y":172.4},{"c":"L6","t":"Lawn/Hollow","x":0.1,"y":179},{"c":"L6","t":"Lawn/Hollow","x":0.121,"y":173.6},{"c":"L6","t":"Lawn/Hollow","x":0.142,"y":159.3},{"c":"L6","t":"Lawn/Hollow","x":0.163,"y":134.3},{"c":"L6","t":"Lawn/Hollow","x":0.184,"y":100.2},{"c":"L6","t":"Lawn/Hollow","x":0.205,"y":66.2},{"c":"L6","t":"Lawn/Hollow","x":0.226,"y":37.6},{"c":"L6","t":"Lawn/Hollow","x":0.247,"y":17.9},{"c":"L6","t":"Lawn/Hollow","x":0.268,"y":7.2},{"c":"L6","t":"Lawn/Hollow","x":0.289,"y":2.1},{"c":"L6","t":"Lawn/Hollow","x":0.31,"y":0},{"c":"L6","t":"Lawn/Hollow","x":0.5,"y":0},
{"c":"L7","t":"Lawn/Hollow","x":0,"y":114.4},{"c":"L7","t":"Lawn/Hollow","x":0.03,"y":128},{"c":"L7","t":"Lawn/Hollow","x":0.06,"y":142.7},{"c":"L7","t":"Lawn/Hollow","x":0.09,"y":158.8},{"c":"L7","t":"Lawn/Hollow","x":0.108,"y":169.8},{"c":"L7","t":"Lawn/Hollow","x":0.12,"y":176},{"c":"L7","t":"Lawn/Hollow","x":0.142,"y":170.7},{"c":"L7","t":"Lawn/Hollow","x":0.164,"y":156.6},{"c":"L7","t":"Lawn/Hollow","x":0.186,"y":132},{"c":"L7","t":"Lawn/Hollow","x":0.208,"y":98.6},{"c":"L7","t":"Lawn/Hollow","x":0.23,"y":65.1},{"c":"L7","t":"Lawn/Hollow","x":0.252,"y":37},{"c":"L7","t":"Lawn/Hollow","x":0.274,"y":17.6},{"c":"L7","t":"Lawn/Hollow","x":0.296,"y":7},{"c":"L7","t":"Lawn/Hollow","x":0.318,"y":2.1},{"c":"L7","t":"Lawn/Hollow","x":0.34,"y":0},{"c":"L7","t":"Lawn/Hollow","x":0.5,"y":0},
{"c":"L8","t":"Lawn/Hollow","x":0,"y":115.9},{"c":"L8","t":"Lawn/Hollow","x":0.023,"y":132.2},{"c":"L8","t":"Lawn/Hollow","x":0.045,"y":149.9},{"c":"L8","t":"Lawn/Hollow","x":0.068,"y":169.3},{"c":"L8","t":"Lawn/Hollow","x":0.081,"y":182.6},{"c":"L8","t":"Lawn/Hollow","x":0.09,"y":190},{"c":"L8","t":"Lawn/Hollow","x":0.111,"y":184.3},{"c":"L8","t":"Lawn/Hollow","x":0.132,"y":169.1},{"c":"L8","t":"Lawn/Hollow","x":0.153,"y":142.5},{"c":"L8","t":"Lawn/Hollow","x":0.174,"y":106.4},{"c":"L8","t":"Lawn/Hollow","x":0.195,"y":70.3},{"c":"L8","t":"Lawn/Hollow","x":0.216,"y":39.9},{"c":"L8","t":"Lawn/Hollow","x":0.237,"y":19},{"c":"L8","t":"Lawn/Hollow","x":0.258,"y":7.6},{"c":"L8","t":"Lawn/Hollow","x":0.279,"y":2.3},{"c":"L8","t":"Lawn/Hollow","x":0.3,"y":0},{"c":"L8","t":"Lawn/Hollow","x":0.5,"y":0}
]
},
"vconcat":[
{
 "width":369,"height":283.5,
 "data":{"name":"photo"},
 "layer":[
  {"mark":{"type":"line","interpolate":"monotone","strokeWidth":1.1},
   "encoding":{
    "x":{"field":"x","type":"quantitative","scale":{"domain":[0,0.6],"nice":false},"axis":{"orient":"bottom","title":null,"values":[0,0.05,0.1,0.15,0.2,0.25,0.3,0.35,0.4,0.45,0.5,0.55,0.6],"format":".2~f","labelExpr":"indexof(['0','0.2','0.4','0.6'], datum.label) >= 0 ? datum.label : ''","labelPadding":17}},
    "y":{"field":"y","type":"quantitative","scale":{"domain":[0,101],"nice":false},"axis":{"orient":"left","title":"Net photosynthesis (% max)","values":[0,5,10,15,20,25,30,35,40,45,50,55,60,65,70,75,80,85,90,95,100],"labelExpr":"datum.value % 20 === 0 ? datum.label : ''","labelPadding":13.7,"labelOffset":1.5,"titlePadding":7.5}},
    "color":{"field":"t","type":"nominal","scale":{"domain":["Hummock","Hummock/Lawn","Lawn/Hollow"],"range":["#111111","#a9a9a9","#5a5a5a"]},"legend":null},
    "strokeDash":{"field":"t","type":"nominal","scale":{"domain":["Hummock","Hummock/Lawn","Lawn/Hollow"],"range":[[1,0],[9,4,2,4],[9,6]]},"legend":null},
    "detail":{"field":"c","type":"nominal"}
   }},
  {"data":{"values":[{"x":0}]},
   "mark":{"type":"rule","opacity":0},
   "encoding":{"x":{"field":"x","type":"quantitative","scale":{"domain":[0,0.6],"nice":false},"axis":{"orient":"top","title":null,"labels":false,"values":[0,0.05,0.1,0.15,0.2,0.25,0.3,0.35,0.4,0.45,0.5,0.55,0.6],"domainColor":"#9a9a9a","domainWidth":1.5}}}}
 ],
 "resolve":{"axis":{"x":"independent"}}
},
{
 "width":369,"height":283,
 "data":{"name":"npp"},
 "layer":[
  {"mark":{"type":"line","interpolate":"monotone","strokeWidth":1.1},
   "encoding":{
    "x":{"field":"x","type":"quantitative","scale":{"domain":[0,0.6],"nice":false},"axis":{"orient":"bottom","title":"Water table depth (m)","values":[0,0.2,0.4,0.6],"format":".1~f","labelPadding":17,"titlePadding":7}},
    "y":{"field":"y","type":"quantitative","scale":{"domain":[0,202],"nice":false},"axis":{"orient":"left","title":"Potential NPP max (g m⁻² mo⁻¹)","values":[0,50,100,150,200],"labelPadding":13.7,"labelOffset":1.5,"titlePadding":7.5}},
    "color":{"field":"t","type":"nominal","title":null,"scale":{"domain":["Hummock","Hummock/Lawn","Lawn/Hollow"],"range":["#111111","#a9a9a9","#5a5a5a"]},"legend":{"orient":"none","legendX":173.3,"legendY":19,"title":null,"symbolType":"M-1,0H4.7","symbolSize":400,"symbolStrokeWidth":1.2,"labelFontSize":16,"labelFontStyle":"italic","labelColor":"#000000","labelOffset":44,"padding":6.7,"rowPadding":6,"strokeColor":"#999999","fillColor":"#ffffff"}},
    "strokeDash":{"field":"t","type":"nominal","title":null,"scale":{"domain":["Hummock","Hummock/Lawn","Lawn/Hollow"],"range":[[1,0],[9,4,2,4],[9,6]]},"legend":{"orient":"none","legendX":173.3,"legendY":19,"title":null,"symbolType":"M-1,0H4.7","symbolSize":400,"symbolStrokeWidth":1.2,"labelFontSize":16,"labelFontStyle":"italic","labelColor":"#000000","labelOffset":44,"padding":6.7,"rowPadding":6,"strokeColor":"#999999","fillColor":"#ffffff"}},
    "detail":{"field":"c","type":"nominal"}
   }},
  {"data":{"values":[{"x":0}]},
   "mark":{"type":"rule","opacity":0},
   "encoding":{"x":{"field":"x","type":"quantitative","scale":{"domain":[0,0.6],"nice":false},"axis":{"orient":"top","title":null,"labels":false,"values":[0,0.2,0.4,0.6],"domainColor":"#9a9a9a","domainWidth":1.5}}}}
 ],
 "resolve":{"axis":{"x":"independent"}}
}
],
"resolve":{"scale":{"color":"independent","strokeDash":"independent"}}
}
